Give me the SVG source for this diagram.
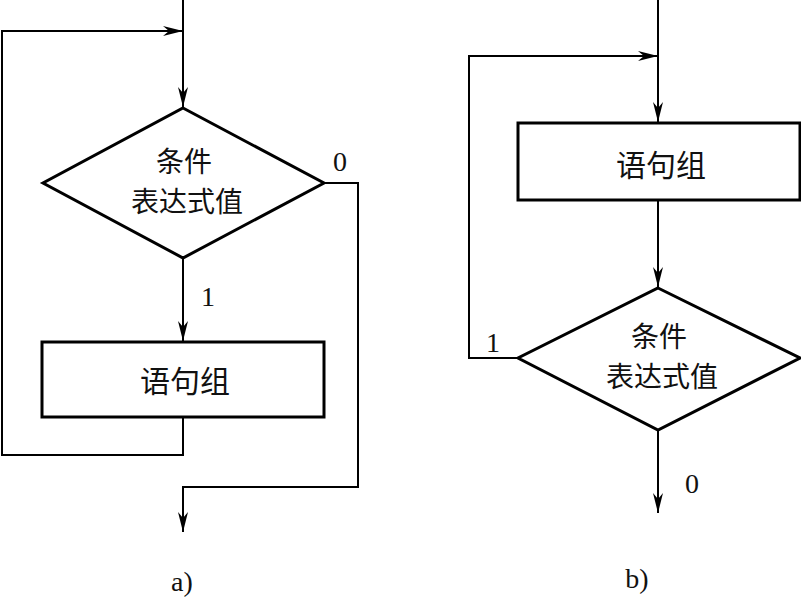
<svg xmlns="http://www.w3.org/2000/svg" width="801" height="597" viewBox="0 0 801 597">
<style>
.shape{fill:#fff;stroke:#000;stroke-width:3}
.conn{fill:none;stroke:#000;stroke-width:2}
.cjk{font-family:"Noto Sans CJK SC","Noto Sans CJK JP",sans-serif;font-size:28px;fill:#111;text-anchor:middle}
.box{font-size:30px}
.lbl{font-family:"Liberation Serif",serif;font-size:28px;fill:#111;text-anchor:middle}
</style>
<defs>
<marker id="arr" viewBox="0 0 20 10" refX="20" refY="5" markerWidth="20" markerHeight="10" markerUnits="userSpaceOnUse" orient="auto">
<path d="M0,0 L20,5 L0,10 L6,5 z" fill="#000"/>
</marker>
</defs>
<rect width="801" height="597" fill="#fff"/>
<g id="connectors">
<path class="conn" d="M183,0 V107" marker-end="url(#arr)"/>
<path class="conn" d="M183,258 V341" marker-end="url(#arr)"/>
<path class="conn" d="M183,418 V455 H2 V31 H183" marker-end="url(#arr)"/>
<path class="conn" d="M324,183 H358 V487 H183 V532" marker-end="url(#arr)"/>
<path class="conn" d="M658,0 V122" marker-end="url(#arr)"/>
<path class="conn" d="M658,200 V287" marker-end="url(#arr)"/>
<path class="conn" d="M518,358 H469 V56 H658" marker-end="url(#arr)"/>
<path class="conn" d="M658,430 V513" marker-end="url(#arr)"/>
</g>
<g id="a-cond">
<polygon class="shape" points="183,108 324,183 183,258 43,183"/>
<text class="cjk" x="184" y="172">条件</text>
<text class="cjk" x="187" y="212">表达式值</text>
</g>
<g id="a-stmt">
<rect class="shape" x="42" y="342" width="282" height="75"/>
<text class="cjk box" x="185" y="392">语句组</text>
</g>
<g id="a-labels">
<text class="lbl" x="340" y="171">0</text>
<text class="lbl" x="208" y="306">1</text>
<text class="lbl" x="182" y="591">a)</text>
</g>
<g id="b-stmt">
<rect class="shape" x="518" y="123" width="282" height="77"/>
<text class="cjk box" x="661" y="176">语句组</text>
</g>
<g id="b-cond">
<polygon class="shape" points="658,288 800,358 658,430 518,358"/>
<text class="cjk" x="659" y="347">条件</text>
<text class="cjk" x="662" y="387">表达式值</text>
</g>
<g id="b-labels">
<text class="lbl" x="493" y="352">1</text>
<text class="lbl" x="692" y="493">0</text>
<text class="lbl" x="637" y="588">b)</text>
</g>
</svg>
